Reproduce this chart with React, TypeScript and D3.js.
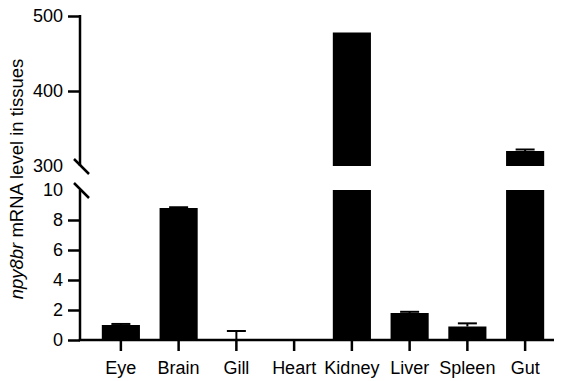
import React, { useRef, useEffect } from "react";
import * as d3 from "d3";

// tissues and qPCR values (mean, SEM)
const categories = ["Eye", "Brain", "Gill", "Heart", "Kidney", "Liver", "Spleen", "Gut"];
const means = [1.0, 8.8, 0, 0, 478, 1.8, 0.9, 320];
const errors = [0.07, 0.05, 0.6, 0, 0, 0.08, 0.21, 2];
const lowTicks = [0, 2, 4, 6, 8, 10];
const highTicks = [300, 400, 500];

const W = 564;
const H = 381;
const FONT = "'Liberation Sans', Arial, sans-serif";

export default function App() {
  const svgRef = useRef<SVGSVGElement>(null);

  useEffect(() => {
    const svg = d3.select(svgRef.current);
    svg.selectAll("*").remove();

    const axisX = 80;
    const lowMax = 10;
    const highMin = 300;

    // scales: broken axis, two linear pieces
    const x = d3
      .scaleBand<string>()
      .domain(categories)
      .range([92, 554])
      .paddingInner(0.34)
      .paddingOuter(0.17);
    const yLow = d3.scaleLinear().domain([0, lowMax]).range([340, 190]);
    const yHigh = d3.scaleLinear().domain([highMin, 500]).range([166, 16]);

    const g = svg.append("g");

    // bars
    categories.forEach((c, i) => {
      const v = means[i];
      const bx = x(c)!;
      const bw = x.bandwidth();
      if (v <= 0) return;
      const lowTop = yLow(Math.min(v, lowMax));
      g.append("rect")
        .attr("x", bx)
        .attr("y", lowTop)
        .attr("width", bw)
        .attr("height", yLow(0) - lowTop)
        .attr("fill", "#000");
      if (v > lowMax) {
        g.append("rect")
          .attr("x", bx)
          .attr("y", yHigh(v))
          .attr("width", bw)
          .attr("height", yHigh(highMin) - yHigh(v))
          .attr("fill", "#000");
      }
    });

    // error bars (upper side only)
    categories.forEach((c, i) => {
      const v = means[i];
      const e = errors[i];
      if (e <= 0) return;
      const cx = x(c)! + x.bandwidth() / 2;
      const sc = v > lowMax ? yHigh : yLow;
      const y0 = sc(v);
      const y1 = sc(v + e);
      g.append("line")
        .attr("x1", cx).attr("x2", cx)
        .attr("y1", y0).attr("y2", y1)
        .attr("stroke", "#000").attr("stroke-width", 2);
      g.append("line")
        .attr("x1", cx - 9.5).attr("x2", cx + 9.5)
        .attr("y1", y1).attr("y2", y1)
        .attr("stroke", "#000").attr("stroke-width", 2);
    });

    const styleAxis = (sel: any, size: number) => {
      sel.selectAll("path").attr("stroke", "#000").attr("stroke-width", 2.5);
      sel.selectAll("line").attr("stroke", "#000").attr("stroke-width", 2.5);
      sel.selectAll("text")
        .attr("fill", "#000")
        .style("font-family", FONT)
        .style("font-size", size + "px");
    };

    // lower y axis
    const gLow = svg
      .append("g")
      .attr("transform", `translate(${axisX},0)`)
      .call(d3.axisLeft(yLow).tickValues(lowTicks).tickSize(12).tickSizeOuter(0).tickPadding(5));
    styleAxis(gLow, 18);
    gLow.select(".domain").attr("d", `M0,${yLow(0) + 1}V${yLow(lowMax)}`);
    gLow.selectAll(".tick").filter((d: any) => d === lowMax).select("line").remove();

    // upper y axis
    const gHigh = svg
      .append("g")
      .attr("transform", `translate(${axisX},0)`)
      .call(d3.axisLeft(yHigh).tickValues(highTicks).tickSize(12).tickSizeOuter(0).tickPadding(5));
    styleAxis(gHigh, 18);
    gHigh.select(".domain").attr("d", `M0,${yHigh(500) - 1}V${yHigh(highMin)}`);
    gHigh.selectAll(".tick").filter((d: any) => d === highMin).select("line").remove();

    // break slashes
    [yHigh(highMin), yLow(lowMax)].forEach((yy) => {
      svg.append("line")
        .attr("x1", axisX - 6).attr("y1", yy - 7)
        .attr("x2", axisX + 9).attr("y2", yy + 8)
        .attr("stroke", "#000").attr("stroke-width", 2.5);
    });

    // x axis
    const gx = svg
      .append("g")
      .attr("transform", `translate(0,${yLow(0)})`)
      .call(d3.axisBottom(x).tickSize(11).tickSizeOuter(0).tickPadding(10));
    styleAxis(gx, 18);
    gx.select(".domain").attr("d", `M${axisX - 1.25},0H554`);

    // y title
    const title = svg
      .append("text")
      .attr("transform", "translate(23,179) rotate(-90)")
      .attr("text-anchor", "middle")
      .style("font-family", FONT)
      .style("font-size", "18.5px")
      .attr("fill", "#000");
    title.append("tspan").style("font-style", "italic").text("npy8br");
    title.append("tspan").text(" mRNA level in tissues");
  }, []);

  return (
    <svg
      ref={svgRef}
      width={W}
      height={H}
      style={{ position: "absolute", left: 0, top: 0, background: "#fff" }}
    ></svg>
  );
}
